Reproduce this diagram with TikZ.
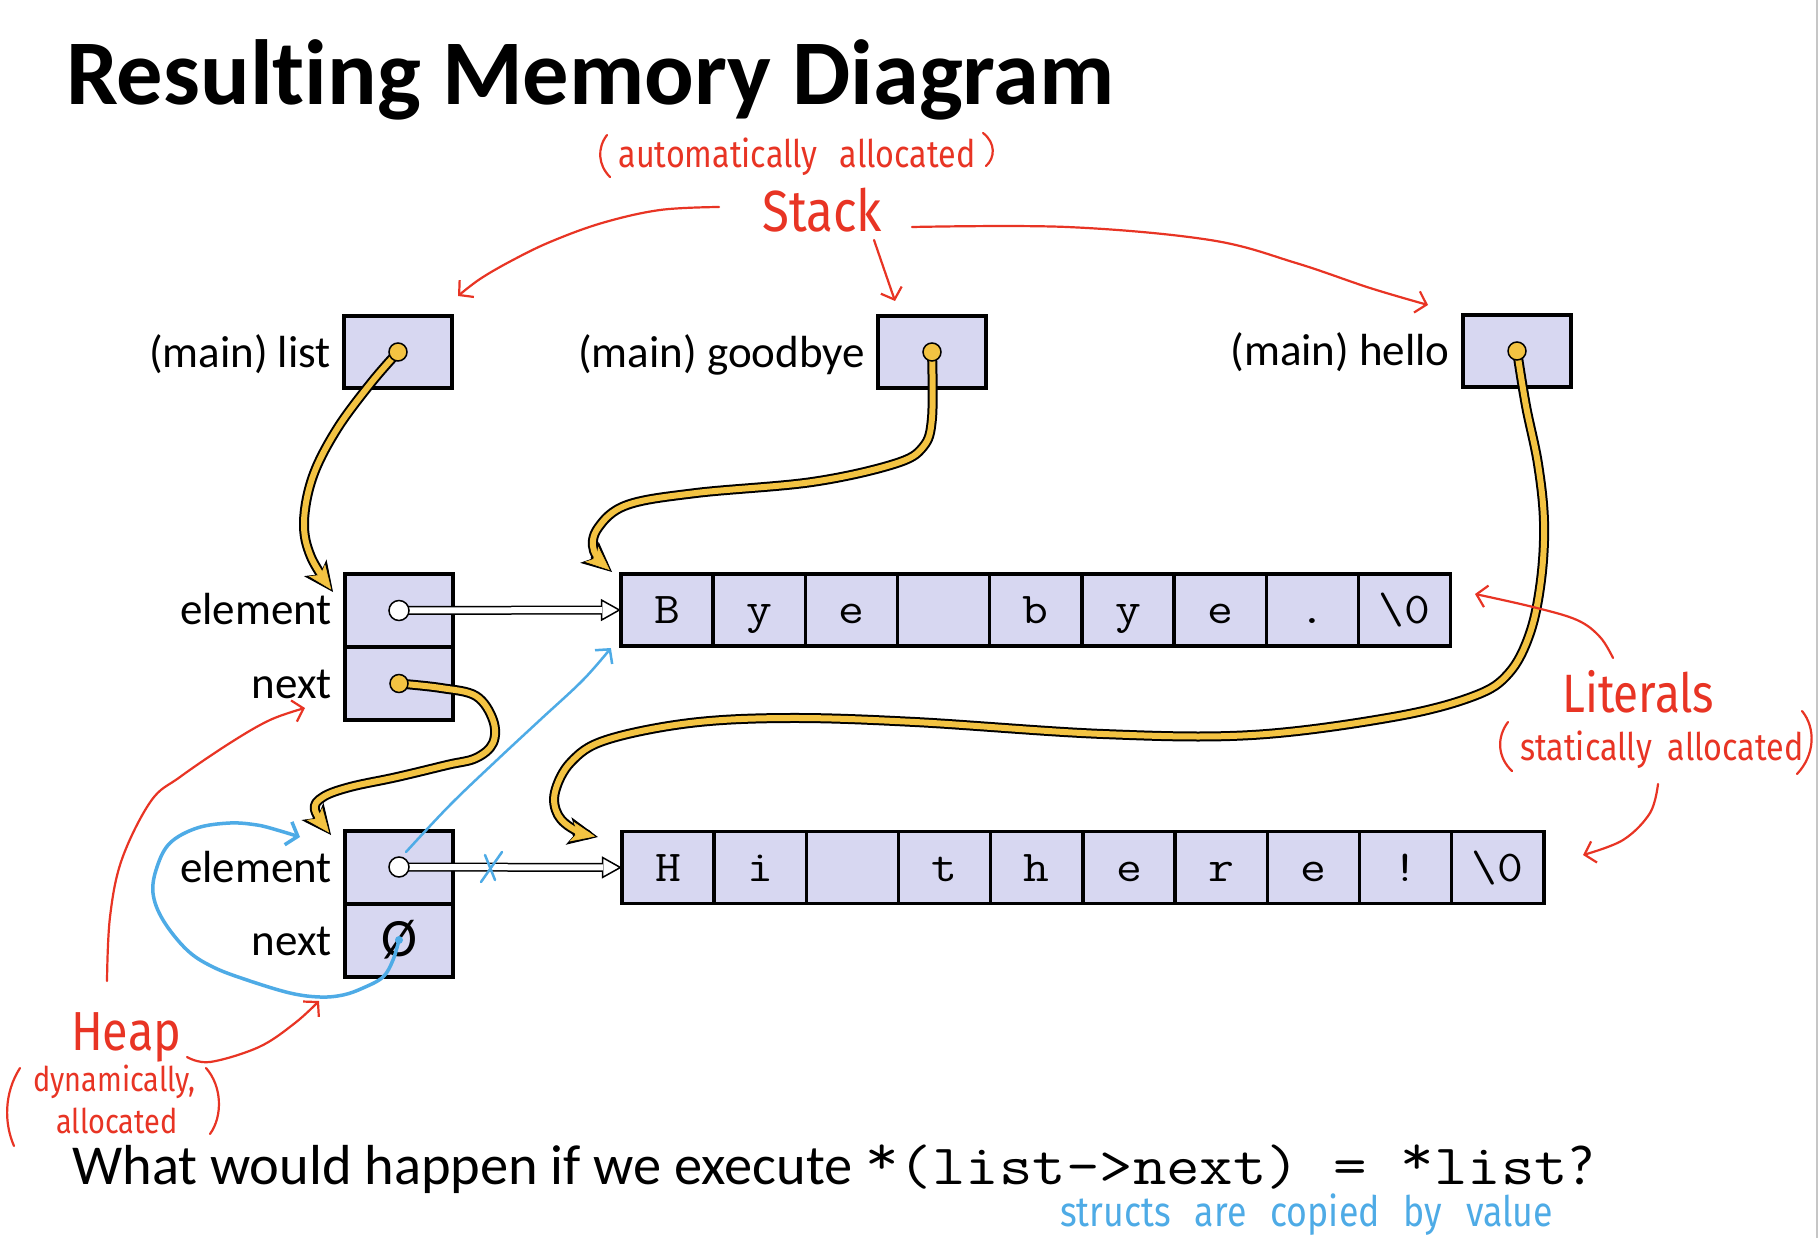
\documentclass[tikz,border=0pt]{standalone}
\usepackage{fontspec}
\setmainfont{Carlito}[Ligatures={TeX,NoCommon}]
\newfontfamily\codefont{Latin Modern Mono}[FakeStretch=1.14]
\newfontfamily\handfont{Fira Sans}[FakeStretch=0.85]
\usetikzlibrary{arrows.meta}

\definecolor{cellfill}{RGB}{215,215,241}
\definecolor{ptrgold}{RGB}{243,195,66}
\definecolor{inkred}{RGB}{232,52,36}
\definecolor{inkblue}{RGB}{78,171,230}

% a pointer drawn as a gold stroke with a dark rim
\newcommand\goldptr[1]{\draw[ptrback] #1; \draw[ptrfront] #1;}
% a raised asterisk, as typewriter faces set it
\newcommand\upstar{\raisebox{0.16em}{*}}

\begin{document}
\begin{tikzpicture}[x=1pt,y=-1pt,
  cell/.style={draw=black, line width=4pt, fill=cellfill, minimum width=108pt,
    minimum height=73pt, inner sep=0pt, outer sep=0pt},
  chr/.style={draw=black, line width=3.5pt, fill=cellfill, minimum width=92.2pt,
    minimum height=72pt, inner sep=0pt, outer sep=0pt},
  chrtxt/.style={anchor=base, inner sep=0pt, font=\codefont\fontsize{44}{50}\selectfont},
  lbl/.style={anchor=base east, inner sep=0pt, font=\fontsize{45}{54}\selectfont},
  ptrdot/.style={circle, fill=ptrgold, draw=black, line width=1.5pt, minimum size=18pt, inner sep=0pt},
  refdot/.style={circle, fill=white, draw=black, line width=1.5pt, minimum size=20pt, inner sep=0pt},
  ptrback/.style={draw=black, line width=10pt, line cap=round, line join=round,
    -{Stealth[length=30pt,width=28pt,inset=8pt,line width=1pt]}},
  ptrfront/.style={draw=ptrgold, line width=6pt, line cap=round, line join=round, shorten >=3pt,
    -{Stealth[length=24pt,width=20pt,inset=6pt,line width=0.5pt,fill=ptrgold]}},
  refback/.style={draw=black, line width=9pt,
    -{Triangle[length=20pt,width=22pt,fill=white,line width=1.5pt]}},
  reffront/.style={draw=white, line width=6pt, shorten >=19pt},
  redink/.style={draw=inkred, line width=2.2pt, line cap=round, line join=round},
  redarrow/.style={redink, -{Straight Barb[length=10pt,width=22pt]}},
  blueink/.style={draw=inkblue, line cap=round, line join=round},
  redtext/.style={inner sep=0pt, text=inkred},
]
\useasboundingbox (0,0) rectangle (1820,1238);
\fill[white] (0,0) rectangle (1820,1238);
\draw[gray!45, line width=1.5pt] (1817,0) -- (1817,1238);

% title
\node[anchor=base west, inner sep=0pt, font=\bfseries\fontsize{92.5}{96}\selectfont] (title) at (66,105) {Resulting Memory Diagram};

% stack variables
\node[cell, minimum height=72pt] (list) at (398,352) {};
\node[cell, minimum height=72pt] (goodbye) at (932,352) {};
\node[cell, minimum height=72pt] (hello) at (1517,351) {};
\node[lbl] (listlbl) at (331,367) {(main) list};
\node[lbl] (goodbyelbl) at (865,367) {(main) goodbye};
\node[lbl] (hellolbl) at (1450,366) {(main) hello};

% heap list nodes
\node[cell] (e1) at (399,610.5) {};
\node[cell] (n1) at (399,683.5) {};
\node[cell] (e2) at (399,867) {};
\node[cell] (n2) at (399,940) {};
\node[lbl] (e1lbl) at (332,624) {element};
\node[lbl] (n1lbl) at (332,698) {next};
\node[lbl] (e2lbl) at (332,882) {element};
\node[lbl] (n2lbl) at (332,955) {next};
\node[inner sep=0pt, font=\fontsize{54}{58}\selectfont] (nullsym) at (n2.center) {Ø};

% string literals
\foreach \ch [count=\i] in {B,y,e,{},b,y,e,.,{\textbackslash 0}} {
  \node[chr] (bye\i) at ({667+92.2*(\i-1)},610) {};
  \node[chrtxt] at ({667+92.2*(\i-1)},623) {\ch};
}
\foreach \ch [count=\i] in {H,i,{},t,h,e,r,e,!,{\textbackslash 0}} {
  \node[chr] (hi\i) at ({668+92.2*(\i-1)},867.5) {};
  \node[chrtxt] at ({668+92.2*(\i-1)},881) {\ch};
}

% element references (hollow arrows)
\draw[refback] (e1.center) -- (bye1.west);
\draw[reffront] (e1.center) -- (bye1.west);
\node[refdot] (c1) at (e1.center) {};
\draw[refback] (e2.center) -- (hi1.west);
\draw[reffront] (e2.center) -- (hi1.west);
\node[refdot] (c2) at (e2.center) {};

% gold pointers
\goldptr{plot[smooth, tension=0.6] coordinates {(list.center) (371,383) (337,429) (313,476) (304,522) (311,557) (333,592)}}
\goldptr{plot[smooth, tension=0.6] coordinates {(goodbye.center) (932,418) (923,447) (894,464) (812,482) (696,493) (627,505) (598,528) (594,551) (612,572)}}
\goldptr{plot[smooth, tension=0.6] coordinates {(hello.center) (1526,406) (1538,464) (1544,522) (1541,580) (1530,633) (1509,673) (1474,696) (1393,717) (1252,735) (1103,734) (915,722) (789,718) (690,723) (606,740) (571,762) (555,792) (558,815) (575,830) (598,837)}}
\goldptr{plot[smooth, tension=0.6] coordinates {(n1.center) (441,688) (476,696) (493,720) (493,743) (476,758) (447,765) (397,777) (350,787) (323,797) (315,810) (331,835)}}
\node[ptrdot] (dlist) at (list.center) {};
\node[ptrdot] (dgoodbye) at (goodbye.center) {};
\node[ptrdot] (dhello) at (hello.center) {};
\node[ptrdot] (dnext) at (n1.center) {};

% question
\node[anchor=base west, inner sep=0pt, text height=40pt, font=\fontsize{56.4}{60}\selectfont] (question) at (72,1184)
  {What would happen if we execute {\codefont\fontsize{57}{60}\selectfont \upstar(list->next) = \upstar list}?};

% red notes: stack
\node[redtext, anchor=base, font=\handfont\fontsize{38}{40}\selectfont] (autolbl) at (797,168)
  {automatically\hspace{22pt}allocated};
\draw[redink] (607,135) .. controls (597,148) and (598,165) .. (610,177);
\draw[redink] (983,133) .. controls (996,143) and (995,158) .. (986,166);
\node[redtext, anchor=base west, font=\handfont\fontsize{58}{60}\selectfont] (stacklbl) at (762,232) {Stack};
\coordinate (stackl) at (719,207);
\coordinate (stackm) at (874,240);
\coordinate (stackr) at (912,227);
\draw[redarrow] plot[smooth, tension=0.6] coordinates {(stackl) (660,210) (602,223) (550,242) (511,261) (480,279) (458,296)};
\draw[redarrow] plot[smooth] coordinates {(stackm) (885,272) (895,301)};
\draw[redarrow] plot[smooth, tension=0.6] coordinates {(stackr) (1067,227) (1210,240) (1296,263) (1370,288) (1428,305)};

% red notes: literals
\node[redtext, anchor=base west, font=\handfont\fontsize{54}{58}\selectfont] (litlbl) at (1562,712) {Literals};
\node[redtext, anchor=base west, font=\handfont\fontsize{38}{40}\selectfont] (statlbl) at (1520,760)
  {statically\hspace{16pt}allocated};
\draw[redink] (1508,722) .. controls (1496,738) and (1498,758) .. (1512,771);
\draw[redink] (1802,711) .. controls (1816,728) and (1815,755) .. (1797,774);
\coordinate (litup) at (1613,658);
\coordinate (litdown) at (1658,784);
\draw[redarrow] plot[smooth, tension=0.6] coordinates {(litup) (1600,637) (1577,620) (1533,607) (1475,594)};
\draw[redarrow] plot[smooth, tension=0.6] coordinates {(litdown) (1650,813) (1623,840) (1583,855)};

% red notes: heap
\node[redtext, anchor=base west, font=\handfont\fontsize{55}{58}\selectfont] (heaplbl) at (71,1050) {Heap};
\node[redtext, anchor=base west, font=\handfont\fontsize{34}{36}\selectfont] (dynlbl) at (33,1091) {dynamically,};
\node[redtext, anchor=base west, font=\handfont\fontsize{34}{36}\selectfont] (alloclbl) at (56,1133) {allocated};
\draw[redink] (20,1068) .. controls (4,1093) and (4,1123) .. (14,1146);
\draw[redink] (206,1068) .. controls (222,1086) and (223,1116) .. (210,1134);
\coordinate (heapup) at (107,981);
\coordinate (heapright) at (187,1057);
\draw[redarrow] plot[smooth, tension=0.6] coordinates {(heapup) (110,917) (122,859) (151,801) (180,777) (230,743) (270,720) (305,708)};
\draw[redarrow] plot[smooth, tension=0.6] coordinates {(heapright) (210,1062) (259,1047) (295,1023) (319,1001)};

% blue notes
\draw[blueink, line width=2.5pt, -{Straight Barb[length=10pt,width=22pt]}]
  plot[smooth, tension=0.6] coordinates {([shift={(7pt,15pt)}]c2.center) (450,805) (497,760) (540,720) (583,680) ([shift={(-10pt,-2pt)}]bye1.south west)};
\draw[blueink, line width=3.5pt, -{Straight Barb[length=10pt,width=24pt]}]
  plot[smooth, tension=0.6] coordinates {(n2.center) (393,960) (383,977) (363,988) (343,995) (320,997) (290,993) (247,980) (213,967) (187,950) (163,920) (153,893) (157,867) (170,843) (197,828) (230,823) (257,825) (277,830) (300,837)};
\fill[inkblue] (n2.center) circle (4pt);
\draw[blueink, line width=2.5pt] (481,882) -- (502,852);
\draw[blueink, line width=2.5pt] (485,855) -- (495,880);
\node[anchor=base west, inner sep=0pt, text=inkblue, font=\handfont\fontsize{42}{44}\selectfont] (copynote) at (1060,1226)
  {structs\hspace{24pt}are\hspace{24pt}copied\hspace{24pt}by\hspace{24pt}value};
\end{tikzpicture}
\end{document}
